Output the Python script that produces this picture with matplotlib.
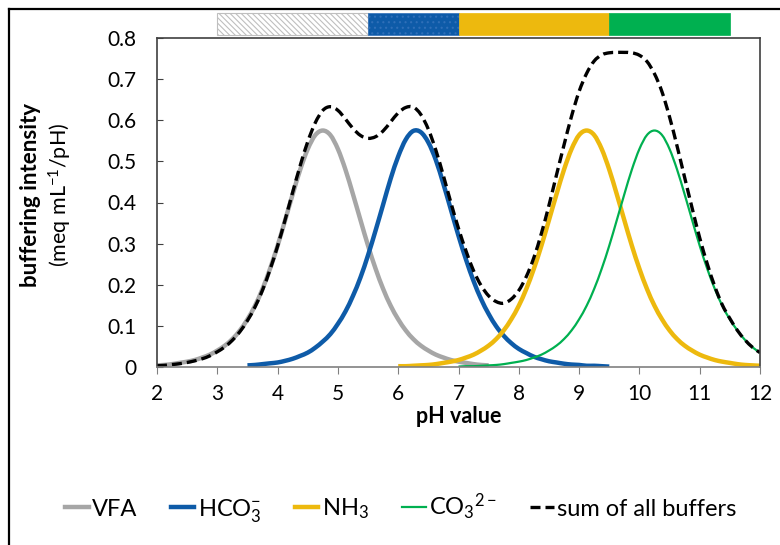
import numpy as np
import matplotlib.pyplot as plt
from matplotlib.lines import Line2D
from matplotlib.patches import Rectangle, PathPatch
from matplotlib.path import Path
import matplotlib.transforms as mtransforms

plt.rcParams['font.family'] = ['Lato', 'DejaVu Sans']
plt.rcParams['mathtext.fontset'] = 'custom'
plt.rcParams['mathtext.rm'] = 'Lato'
plt.rcParams['mathtext.it'] = 'Lato:italic'
plt.rcParams['mathtext.bf'] = 'Lato:bold'
plt.rcParams['hatch.linewidth'] = 0.8

# pH step used for all the read-off values
step = 0.125

# VFA, pH 2 .. 7.5
vfa_start, vfa_end = 2.0, 7.5
vfa = [0.004, 0.005, 0.007, 0.010, 0.013, 0.017, 0.023, 0.030, 0.040, 0.052,
       0.068, 0.089, 0.116, 0.149, 0.190, 0.239, 0.295, 0.357, 0.420, 0.480,
       0.530, 0.564, 0.575, 0.564, 0.530, 0.480, 0.420, 0.357, 0.295, 0.239,
       0.190, 0.149, 0.116, 0.089, 0.068, 0.052, 0.040, 0.030, 0.023, 0.017,
       0.013, 0.010, 0.007, 0.005, 0.004]

# HCO3-, pH 3.5 .. 9.5
hco3_start, hco3_end = 3.5, 9.5
hco3 = [0.004, 0.005, 0.007, 0.009, 0.011, 0.015, 0.020, 0.027, 0.035, 0.047,
        0.062, 0.080, 0.105, 0.135, 0.173, 0.218, 0.272, 0.332, 0.395, 0.458,
        0.512, 0.553, 0.574, 0.571, 0.546, 0.503, 0.445, 0.382, 0.319, 0.261,
        0.209, 0.165, 0.129, 0.099, 0.076, 0.058, 0.044, 0.034, 0.025, 0.019,
        0.014, 0.011, 0.008, 0.006, 0.005, 0.003, 0.003, 0.002, 0.001]

# NH3, pH 6 .. 12
nh3_start, nh3_end = 6.0, 12.0
nh3 = [0.002, 0.002, 0.003, 0.004, 0.005, 0.007, 0.010, 0.013, 0.017, 0.023,
       0.030, 0.040, 0.052, 0.068, 0.089, 0.116, 0.149, 0.190, 0.239, 0.295,
       0.357, 0.420, 0.480, 0.530, 0.564, 0.575, 0.564, 0.530, 0.480, 0.420,
       0.357, 0.295, 0.239, 0.190, 0.149, 0.116, 0.089, 0.068, 0.052, 0.040,
       0.030, 0.023, 0.017, 0.013, 0.010, 0.007, 0.005, 0.004, 0.003]

# CO3 2-, pH 7 .. 12
co3_start, co3_end = 7.0, 12.0
co3 = [0.001, 0.002, 0.002, 0.003, 0.004, 0.005, 0.007, 0.010, 0.013, 0.017,
       0.023, 0.030, 0.040, 0.052, 0.068, 0.089, 0.116, 0.149, 0.190, 0.239,
       0.295, 0.357, 0.420, 0.480, 0.530, 0.564, 0.575, 0.564, 0.530, 0.480,
       0.420, 0.357, 0.295, 0.239, 0.190, 0.149, 0.116, 0.089, 0.066, 0.048,
       0.035]

# sum of all buffers, pH 2 .. 12
sum_start, sum_end = 2.0, 12.0
total = [0.003, 0.004, 0.006, 0.008, 0.011, 0.015, 0.020, 0.027, 0.037, 0.049,
         0.065, 0.086, 0.113, 0.146, 0.187, 0.237, 0.294, 0.358, 0.425, 0.490,
         0.548, 0.594, 0.624, 0.633, 0.624, 0.603, 0.580, 0.563, 0.556, 0.560,
         0.574, 0.596, 0.618, 0.631, 0.632, 0.614, 0.578, 0.527, 0.465, 0.399,
         0.337, 0.282, 0.234, 0.198, 0.173, 0.159, 0.155, 0.165, 0.186, 0.220,
         0.266, 0.325, 0.393, 0.467, 0.540, 0.610, 0.670, 0.714, 0.744, 0.759,
         0.764, 0.765, 0.765, 0.764, 0.758, 0.743, 0.713, 0.669, 0.608, 0.537,
         0.461, 0.386, 0.314, 0.251, 0.196, 0.151, 0.118, 0.089, 0.066, 0.048,
         0.035]

# pH ranges in the bar above the plot
bar_from = [3.0, 5.5, 7.0, 9.5]
bar_to = [5.5, 7.0, 9.5, 11.5]
bar_colors = ['white', '#0E5BA8', '#EDB90E', '#00B050']

labels = ['VFA', r'HCO$_3^{-}$', r'NH$_3$', r'CO$_3$$^{2-}$', 'sum of all buffers']


def ph_range(a, b):
    return np.arange(a, b + step / 2, step)


def smooth_line(ax, x, y, **kw):
    # excel style "smoothed line": bezier segments through the points
    pts = np.column_stack([x, y])
    n = len(pts)
    verts = [pts[0]]
    codes = [Path.MOVETO]
    for i in range(n - 1):
        p0 = pts[max(i - 1, 0)]
        p1 = pts[i]
        p2 = pts[i + 1]
        p3 = pts[min(i + 2, n - 1)]
        verts += [p1 + (p2 - p0) / 6, p2 - (p3 - p1) / 6, p2]
        codes += [Path.CURVE4] * 3
    patch = PathPatch(Path(verts, codes), fill=False, joinstyle='round', **kw)
    ax.add_patch(patch)


fig = plt.figure(figsize=(7.8, 5.45), dpi=100)
ax = fig.add_axes([157 / 780, 1 - 367 / 545, 603 / 780, 329 / 545])

styles = [
    dict(color='#A6A6A6', lw=3.2),
    dict(color='#0E5BA8', lw=3.2),
    dict(color='#EDB90E', lw=3.2),
    dict(color='#00B050', lw=1.6),
    dict(color='black', lw=2.4, linestyle=(0, (3.0, 1.5))),
]
series = [
    (ph_range(vfa_start, vfa_end), vfa),
    (ph_range(hco3_start, hco3_end), hco3),
    (ph_range(nh3_start, nh3_end), nh3),
    (ph_range(co3_start, co3_end), co3),
    (ph_range(sum_start, sum_end), total),
]
handles = []
for (x, y), st in zip(series, styles):
    smooth_line(ax, x, y, edgecolor=st['color'], lw=st['lw'],
                linestyle=st.get('linestyle', '-'))
    handles.append(Line2D([], [], color=st['color'], lw=st['lw'],
                          linestyle=st.get('linestyle', '-')))

ax.set_xlim(2, 12)
ax.set_ylim(0, 0.8)
ax.set_xticks(range(2, 13))
ax.set_yticks(np.arange(0, 0.81, 0.1))
ax.set_yticklabels(['0'] + ['%.1f' % v for v in np.arange(0.1, 0.81, 0.1)])
ax.tick_params(axis='y', direction='in', length=4, pad=15, labelsize=15,
               color='#404040')
ax.tick_params(axis='x', direction='out', length=5, pad=7, labelsize=15,
               color='#808080')
for s in ax.spines.values():
    s.set_color('#404040')
    s.set_linewidth(1.2)
ax.spines['bottom'].set_color('#808080')

ax.set_xlabel('pH value', fontsize=15.5, fontweight='bold', labelpad=2)
ax.text(-0.21, 0.523, 'buffering intensity', transform=ax.transAxes,
        rotation=90, ha='center', va='center', fontsize=16, fontweight='bold')
ax.text(-0.16, 0.523, r'(meq mL$^{-1}$/pH)', transform=ax.transAxes,
        rotation=90, ha='center', va='center', fontsize=15.5)

# coloured bar above the plot
trans = mtransforms.blended_transform_factory(ax.transData, ax.transAxes)
for a, b, c in zip(bar_from, bar_to, bar_colors):
    if c == 'white':
        r = Rectangle((a, 1.009), b - a, 0.067, transform=trans, clip_on=False,
                      facecolor='white', edgecolor='#BFBFBF', hatch='\\\\\\\\\\\\',
                      lw=0.8)
    elif c == '#0E5BA8':
        r = Rectangle((a, 1.009), b - a, 0.067, transform=trans, clip_on=False,
                      facecolor=c, edgecolor='#2F6FB8', hatch='...', lw=0.5)
    else:
        r = Rectangle((a, 1.009), b - a, 0.067, transform=trans, clip_on=False,
                      facecolor=c, edgecolor=c, lw=0.5)
    ax.add_patch(r)

fig.legend(handles, labels, loc='center',
           bbox_to_anchor=(0.514, 0.068), ncol=5, frameon=False, fontsize=17,
           handlelength=1.0, handletextpad=0.15, columnspacing=1.4)

# outer frame (cropped figure border)
fig.add_artist(Line2D([8.5 / 780, 1], [1 - 9 / 545, 1 - 9 / 545],
                      transform=fig.transFigure, color='black', lw=1.6))
fig.add_artist(Line2D([8.5 / 780, 8.5 / 780], [0, 1 - 9 / 545],
                      transform=fig.transFigure, color='black', lw=1.6))

fig.savefig('out.png', dpi=100)
